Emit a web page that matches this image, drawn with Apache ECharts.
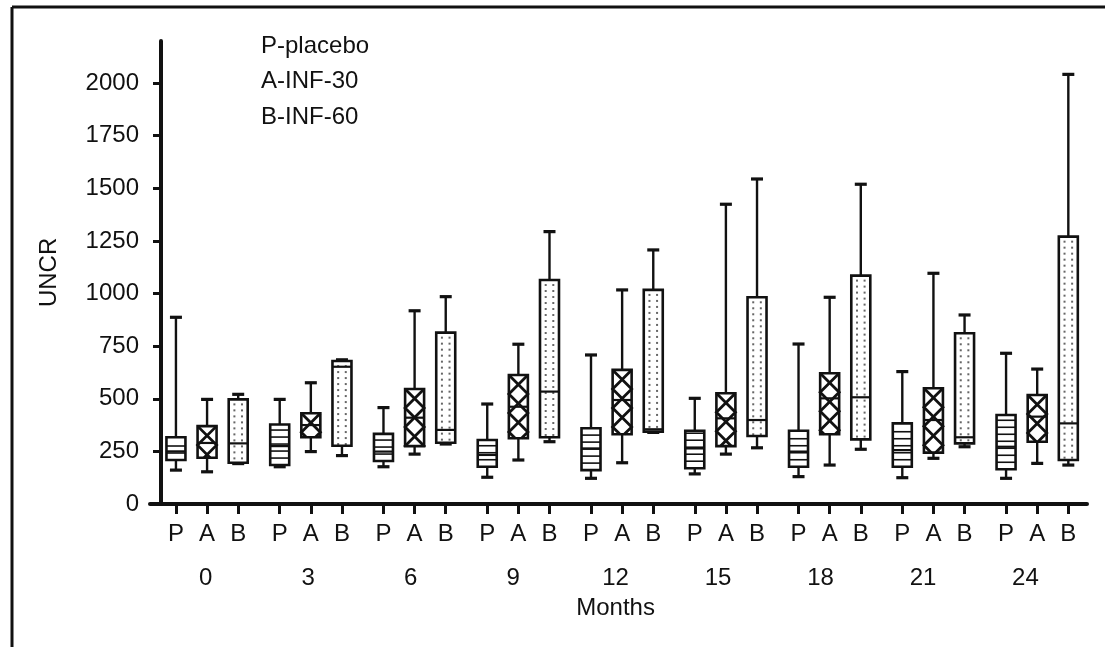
<!DOCTYPE html>
<html>
<head>
<meta charset="utf-8">
<script src="https://cdn.jsdelivr.net/npm/echarts@6/dist/echarts.min.js"></script>
<style>
  html, body { margin: 0; padding: 0; background: #fff; }
  #chart { width: 1105px; height: 647px; }
</style>
</head>
<body>
<div id="chart"></div>
<script>
// Visit months and treatment groups
const months = ['0', '3', '6', '9', '12', '15', '18', '21', '24'];
const groups = ['P', 'A', 'B'];
const legendLines = ['P-placebo', 'A-INF-30', 'B-INF-60'];
const yTicks = [0, 250, 500, 750, 1000, 1250, 1500, 1750, 2000];

// UNCR summaries per month: [min, Q1, median, Q3, max]
const placebo = [
  [161, 209, 250, 317, 887],
  [177, 185, 275, 378, 497],
  [177, 204, 249, 333, 458],
  [127, 177, 233, 304, 475],
  [122, 161, 264, 360, 708],
  [143, 170, 264, 348, 502],
  [130, 177, 249, 348, 760],
  [125, 177, 256, 383, 629],
  [122, 165, 272, 423, 716]
];
const inf30 = [
  [153, 220, 290, 370, 497],
  [249, 317, 375, 431, 576],
  [237, 275, 410, 546, 918],
  [209, 312, 462, 613, 759],
  [196, 331, 494, 637, 1017],
  [237, 275, 407, 526, 1424],
  [185, 331, 502, 621, 982],
  [217, 244, 399, 550, 1096],
  [193, 296, 415, 518, 641]
];
const inf60 = [
  [192, 196, 288, 497, 521],
  [230, 277, 652, 679, 685],
  [285, 291, 352, 814, 985],
  [296, 317, 534, 1064, 1294],
  [340, 344, 355, 1017, 1207],
  [267, 323, 399, 982, 1544],
  [260, 307, 507, 1085, 1519],
  [272, 288, 317, 811, 898],
  [185, 209, 383, 1270, 2041]
];

const groupData = [placebo, inf30, inf60];

// Horizontal layout: each month occupies 10 units, boxes sit at slots 2.5 / 5.5 / 8.5
const slotOffset = [2.5, 5.5, 8.5];
const slotPositions = [];
months.forEach((m, i) => slotOffset.forEach(o => slotPositions.push(i * 10 + o)));

const INK = '#111';
const FONT = 'Liberation Sans, Arial, Helvetica, sans-serif';

function boxRenderer(groupIndex) {
  return function (params, api) {
    const x = api.value(0);
    const pMin = api.coord([x, api.value(1)]);
    const pQ1 = api.coord([x, api.value(2)]);
    const pMed = api.coord([x, api.value(3)]);
    const pQ3 = api.coord([x, api.value(4)]);
    const pMax = api.coord([x, api.value(5)]);
    const cx = pMin[0];
    const halfW = 9.5;
    const capHalf = 6;
    const left = cx - halfW, right = cx + halfW, w = 2 * halfW;
    const top = pQ3[1], bottom = pQ1[1];
    const children = [];

    // whiskers and caps
    children.push({ type: 'line', shape: { x1: cx, y1: pMax[1], x2: cx, y2: top }, style: { stroke: INK, lineWidth: 2.4 } });
    children.push({ type: 'line', shape: { x1: cx, y1: bottom, x2: cx, y2: pMin[1] }, style: { stroke: INK, lineWidth: 2.4 } });
    children.push({ type: 'line', shape: { x1: cx - capHalf, y1: pMax[1], x2: cx + capHalf, y2: pMax[1] }, style: { stroke: INK, lineWidth: 3.2 } });
    children.push({ type: 'line', shape: { x1: cx - capHalf, y1: pMin[1], x2: cx + capHalf, y2: pMin[1] }, style: { stroke: INK, lineWidth: 3.2 } });

    // box background
    children.push({ type: 'rect', shape: { x: left, y: top, width: w, height: bottom - top }, style: { fill: '#fff' } });

    // fill patterns
    if (groupIndex === 0) {
      for (let y = bottom - 7; y > top + 2; y -= 7) {
        children.push({ type: 'line', shape: { x1: left, y1: y, x2: right, y2: y }, style: { stroke: INK, lineWidth: 1.6 } });
      }
    } else if (groupIndex === 1) {
      const period = w;
      const zig = function (y, mirrored) {
        let u = ((y - top) / period) % 2;
        let f = u < 1 ? u : 2 - u;
        if (mirrored) f = 1 - f;
        return left + f * w;
      };
      [false, true].forEach(function (mirrored) {
        const pts = [];
        for (let y = top; y < bottom; y += period) pts.push([zig(y, mirrored), y]);
        pts.push([zig(bottom, mirrored), bottom]);
        children.push({ type: 'polyline', shape: { points: pts }, style: { stroke: INK, lineWidth: 2.8, fill: null } });
      });
    } else {
      for (let y = top + 4; y < bottom - 2; y += 6) {
        children.push({ type: 'rect', shape: { x: cx - 4.8, y: y, width: 2, height: 2 }, style: { fill: '#666' } });
        children.push({ type: 'rect', shape: { x: cx + 2.8, y: y, width: 2, height: 2 }, style: { fill: '#666' } });
      }
    }

    // median and outline
    children.push({ type: 'line', shape: { x1: left, y1: pMed[1], x2: right, y2: pMed[1] }, style: { stroke: INK, lineWidth: 2.2 } });
    children.push({ type: 'rect', shape: { x: left, y: top, width: w, height: bottom - top }, style: { fill: null, stroke: INK, lineWidth: 2.6 } });

    return { type: 'group', children: children };
  };
}

const series = groups.map(function (g, gi) {
  return {
    name: legendLines[gi],
    type: 'custom',
    xAxisIndex: 0,
    yAxisIndex: 0,
    renderItem: boxRenderer(gi),
    encode: { x: 0, y: [1, 2, 3, 4, 5] },
    data: groupData[gi].map(function (s, i) { return [i * 10 + slotOffset[gi]].concat(s); })
  };
});

const chart = echarts.init(document.getElementById('chart'), null, { renderer: 'canvas' });

chart.setOption({
  backgroundColor: '#fff',
  animation: false,
  grid: [
    { left: 150, right: 18, top: 40.9, bottom: 143 },
    { left: 154.5, right: 28.3, top: 40.9, bottom: 143 }
  ],
  xAxis: [
    {
      type: 'value',
      gridIndex: 0,
      min: 0,
      max: 90.3,
      axisLine: { show: true, onZero: false, lineStyle: { color: INK, width: 4 } },
      axisTick: { show: true, customValues: slotPositions, length: 10, lineStyle: { color: INK, width: 3 } },
      axisLabel: {
        show: true,
        customValues: slotPositions,
        margin: 18,
        fontSize: 24,
        fontFamily: FONT,
        color: INK,
        formatter: function (v) {
          return groups[Math.round(((v % 10) - 2.5) / 3)];
        }
      },
      splitLine: { show: false }
    },
    {
      type: 'category',
      gridIndex: 1,
      data: months,
      position: 'bottom',
      axisLine: { show: false },
      axisTick: { show: false },
      axisLabel: { margin: 62, fontSize: 24, fontFamily: FONT, color: INK },
      name: 'Months',
      nameLocation: 'middle',
      nameGap: 92,
      nameTextStyle: { fontSize: 24, fontFamily: FONT, color: INK },
      splitLine: { show: false }
    }
  ],
  yAxis: [
    {
      type: 'value',
      gridIndex: 0,
      min: 0,
      max: 2200,
      offset: -11,
      name: 'UNCR',
      nameLocation: 'middle',
      nameGap: 100,
      nameRotate: 90,
      nameTextStyle: { fontSize: 24, fontFamily: FONT, color: INK },
      axisLine: { show: true, onZero: false, lineStyle: { color: INK, width: 4 } },
      axisTick: { show: true, customValues: yTicks, length: 8, lineStyle: { color: INK, width: 3 } },
      axisLabel: {
        show: true,
        customValues: yTicks,
        margin: 22,
        fontSize: 24,
        fontFamily: FONT,
        color: INK,
        formatter: function (v) { return String(v); }
      },
      splitLine: { show: false }
    },
    { type: 'value', gridIndex: 1, show: false, min: 0, max: 2200 }
  ],
  graphic: [
    { type: 'line', shape: { x1: 12, y1: 7, x2: 1105, y2: 7 }, style: { stroke: INK, lineWidth: 3 } },
    { type: 'line', shape: { x1: 12, y1: 7, x2: 12, y2: 647 }, style: { stroke: INK, lineWidth: 3 } }
  ].concat(legendLines.map(function (t, i) {
    return {
      type: 'text',
      left: 261,
      top: 34 + i * 35.7,
      style: { text: t, fontSize: 24, fontFamily: FONT, fill: INK }
    };
  })),
  series: series
});
</script>
</body>
</html>
